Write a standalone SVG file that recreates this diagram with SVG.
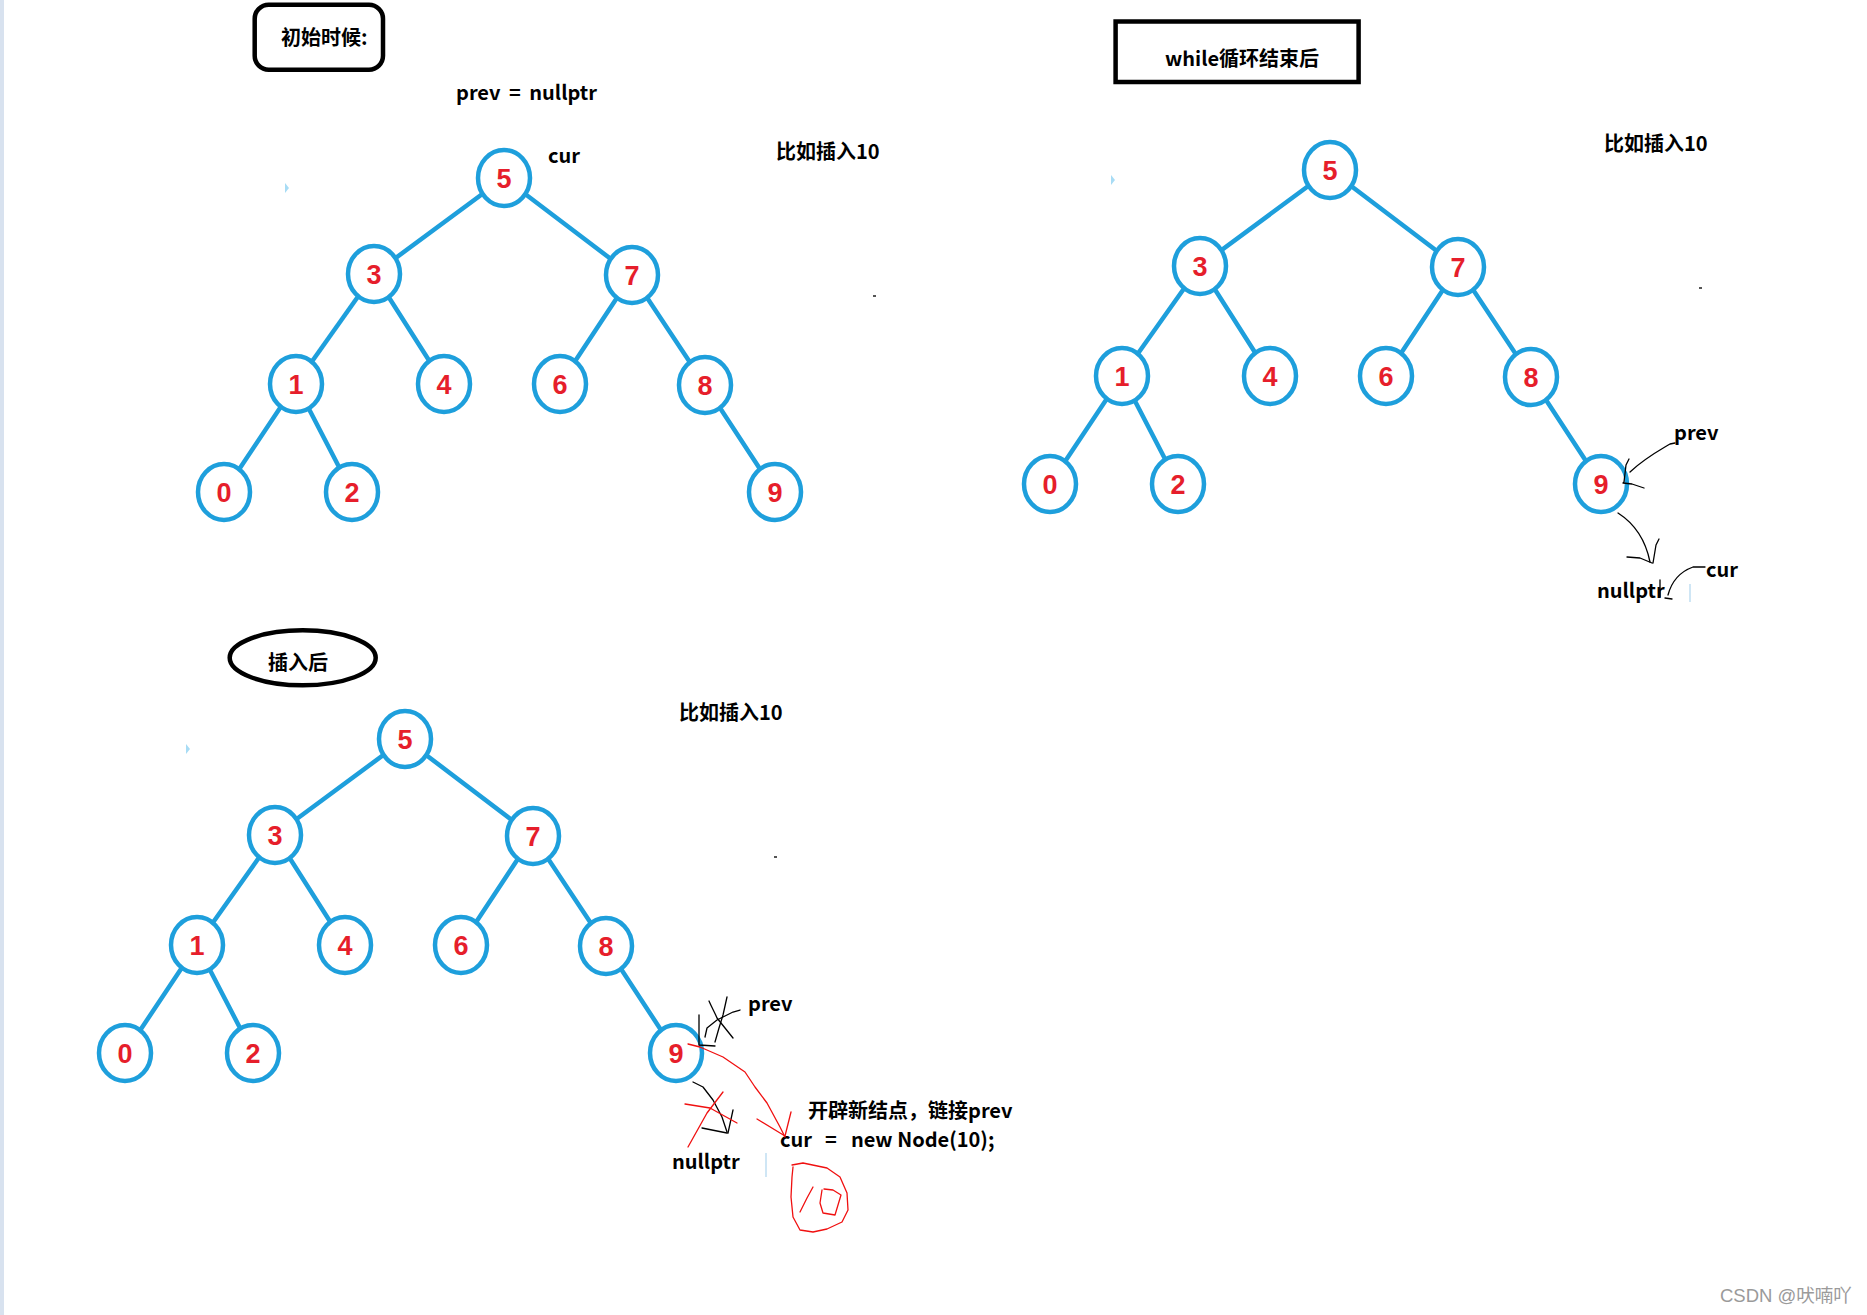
<svg xmlns="http://www.w3.org/2000/svg" width="1867" height="1315" viewBox="0 0 1867 1315">
<defs>
<style>
.edge{stroke:#1e9fdc;stroke-width:4.5;stroke-linecap:round}
.node ellipse{fill:#fff;stroke:#1e9fdc;stroke-width:4.5}
.node text{fill:#e61e2b;font-family:"Liberation Sans",Arial,sans-serif;font-weight:bold;font-size:27px;text-anchor:middle}
.lbl{font-family:"Noto Sans CJK SC","Noto Sans",sans-serif;font-weight:bold;font-size:20px;fill:#000}
.pen{fill:none;stroke:#000;stroke-width:1.3;stroke-linecap:round;stroke-linejoin:round}
.red{fill:none;stroke:#f01010;stroke-width:1.3;stroke-linecap:round;stroke-linejoin:round}
.frame{fill:none;stroke:#000;stroke-width:4.5}
</style>
<g id="treeEdges">
<line class="edge" x1="0" y1="0" x2="-130" y2="96"/>
<line class="edge" x1="0" y1="0" x2="128" y2="97"/>
<line class="edge" x1="-130" y1="96" x2="-208" y2="206"/>
<line class="edge" x1="-130" y1="96" x2="-60" y2="206"/>
<line class="edge" x1="128" y1="97" x2="56" y2="206"/>
<line class="edge" x1="128" y1="97" x2="201" y2="207"/>
<line class="edge" x1="-208" y1="206" x2="-280" y2="314"/>
<line class="edge" x1="-208" y1="206" x2="-152" y2="314"/>
<line class="edge" x1="201" y1="207" x2="271" y2="314"/>
</g>
</defs>
<rect width="1867" height="1315" fill="#fff"/>
<rect x="0" y="0" width="4" height="1315" fill="#d8e2ef"/>

<!-- Tree 1 -->
<g id="tree1" transform="translate(504,178)">
<g id="t1-connectors"><use href="#treeEdges"/></g>
<g id="t1-n5" class="node"><ellipse cx="0" cy="0" rx="26" ry="28"/><text x="0" y="10">5</text></g>
<g id="t1-n3" class="node"><ellipse cx="-130" cy="96" rx="26" ry="28"/><text x="-130" y="106">3</text></g>
<g id="t1-n7" class="node"><ellipse cx="128" cy="97" rx="26" ry="28"/><text x="128" y="107">7</text></g>
<g id="t1-n1" class="node"><ellipse cx="-208" cy="206" rx="26" ry="28"/><text x="-208" y="216">1</text></g>
<g id="t1-n4" class="node"><ellipse cx="-60" cy="206" rx="26" ry="28"/><text x="-60" y="216">4</text></g>
<g id="t1-n6" class="node"><ellipse cx="56" cy="206" rx="26" ry="28"/><text x="56" y="216">6</text></g>
<g id="t1-n8" class="node"><ellipse cx="201" cy="207" rx="26" ry="28"/><text x="201" y="217">8</text></g>
<g id="t1-n0" class="node"><ellipse cx="-280" cy="314" rx="26" ry="28"/><text x="-280" y="324">0</text></g>
<g id="t1-n2" class="node"><ellipse cx="-152" cy="314" rx="26" ry="28"/><text x="-152" y="324">2</text></g>
<g id="t1-n9" class="node"><ellipse cx="271" cy="314" rx="26" ry="28"/><text x="271" y="324">9</text></g>
<polygon points="-219,5 -215,10 -219,15" fill="#a8dcf5"/>
<rect x="369" y="117" width="3" height="2" fill="#555"/>
</g>

<!-- Tree 2 -->
<g id="tree2" transform="translate(1330,170)">
<g id="t2-connectors"><use href="#treeEdges"/></g>
<g id="t2-n5" class="node"><ellipse cx="0" cy="0" rx="26" ry="28"/><text x="0" y="10">5</text></g>
<g id="t2-n3" class="node"><ellipse cx="-130" cy="96" rx="26" ry="28"/><text x="-130" y="106">3</text></g>
<g id="t2-n7" class="node"><ellipse cx="128" cy="97" rx="26" ry="28"/><text x="128" y="107">7</text></g>
<g id="t2-n1" class="node"><ellipse cx="-208" cy="206" rx="26" ry="28"/><text x="-208" y="216">1</text></g>
<g id="t2-n4" class="node"><ellipse cx="-60" cy="206" rx="26" ry="28"/><text x="-60" y="216">4</text></g>
<g id="t2-n6" class="node"><ellipse cx="56" cy="206" rx="26" ry="28"/><text x="56" y="216">6</text></g>
<g id="t2-n8" class="node"><ellipse cx="201" cy="207" rx="26" ry="28"/><text x="201" y="217">8</text></g>
<g id="t2-n0" class="node"><ellipse cx="-280" cy="314" rx="26" ry="28"/><text x="-280" y="324">0</text></g>
<g id="t2-n2" class="node"><ellipse cx="-152" cy="314" rx="26" ry="28"/><text x="-152" y="324">2</text></g>
<g id="t2-n9" class="node"><ellipse cx="271" cy="314" rx="26" ry="28"/><text x="271" y="324">9</text></g>
<polygon points="-219,5 -215,10 -219,15" fill="#a8dcf5"/>
<rect x="369" y="117" width="3" height="2" fill="#555"/>
</g>

<!-- Tree 3 -->
<g id="tree3" transform="translate(405,739)">
<g id="t3-connectors"><use href="#treeEdges"/></g>
<g id="t3-n5" class="node"><ellipse cx="0" cy="0" rx="26" ry="28"/><text x="0" y="10">5</text></g>
<g id="t3-n3" class="node"><ellipse cx="-130" cy="96" rx="26" ry="28"/><text x="-130" y="106">3</text></g>
<g id="t3-n7" class="node"><ellipse cx="128" cy="97" rx="26" ry="28"/><text x="128" y="107">7</text></g>
<g id="t3-n1" class="node"><ellipse cx="-208" cy="206" rx="26" ry="28"/><text x="-208" y="216">1</text></g>
<g id="t3-n4" class="node"><ellipse cx="-60" cy="206" rx="26" ry="28"/><text x="-60" y="216">4</text></g>
<g id="t3-n6" class="node"><ellipse cx="56" cy="206" rx="26" ry="28"/><text x="56" y="216">6</text></g>
<g id="t3-n8" class="node"><ellipse cx="201" cy="207" rx="26" ry="28"/><text x="201" y="217">8</text></g>
<g id="t3-n0" class="node"><ellipse cx="-280" cy="314" rx="26" ry="28"/><text x="-280" y="324">0</text></g>
<g id="t3-n2" class="node"><ellipse cx="-152" cy="314" rx="26" ry="28"/><text x="-152" y="324">2</text></g>
<g id="t3-n9" class="node"><ellipse cx="271" cy="314" rx="26" ry="28"/><text x="271" y="324">9</text></g>
<polygon points="-219,5 -215,10 -219,15" fill="#a8dcf5"/>
<rect x="369" y="117" width="3" height="2" fill="#555"/>
</g>

<!-- Section 1 labels -->
<g id="title1">
<rect class="frame" x="254.7" y="4.7" width="128.3" height="65" rx="14"/>
<text class="lbl" x="281" y="45" font-size="19">初始时候:</text>
</g>
<text class="lbl" x="456" y="100" word-spacing="4">prev = nullptr</text>
<text class="lbl" x="548" y="163">cur</text>
<text class="lbl" x="776" y="159">比如插入10</text>

<!-- Section 2 labels -->
<g id="title2">
<rect class="frame" x="1115.6" y="21.5" width="243" height="60.5"/>
<text class="lbl" x="1165" y="66">while循环结束后</text>
</g>
<text class="lbl" x="1604" y="151">比如插入10</text>
<text class="lbl" x="1674" y="440">prev</text>
<text class="lbl" x="1706" y="577">cur</text>
<text class="lbl" x="1597" y="598">nullptr</text>
<g id="sketch2">
<path class="pen" d="M1675,443 L1670,444 C1660,450 1645,458 1630,472"/>
<path class="pen" d="M1629,459 L1626,465 L1624,482 L1623,483 L1632,484 L1644,488"/>
<path class="pen" d="M1618,513 C1632,522 1645,537 1650,562"/>
<path class="pen" d="M1659,539 L1656,545 L1653,563 M1627,557 L1640,558 L1652,563"/>
<path class="pen" d="M1705,567 L1693,567 C1682,571 1672,580 1668,595"/>
<path class="pen" d="M1660,580 L1660,597 M1665,598 L1672,599"/>
<line x1="1690" y1="584" x2="1690" y2="602" stroke="#cfe6f5" stroke-width="2"/>
</g>

<!-- Section 3 labels -->
<g id="title3">
<ellipse cx="302.7" cy="657.8" rx="73" ry="27.5" fill="none" stroke="#000" stroke-width="4.5"/>
<text class="lbl" x="268" y="670">插入后</text>
</g>
<text class="lbl" x="679" y="720">比如插入10</text>
<text class="lbl" x="748" y="1011">prev</text>
<text class="lbl" x="808" y="1118">开辟新结点，链接prev</text>
<text class="lbl" x="780" y="1147" font-weight="600" font-size="21">cur</text>
<text class="lbl" x="825" y="1147" font-weight="600" font-size="21">=</text>
<text class="lbl" x="851" y="1147" font-weight="600" font-size="21">new Node(10);</text>
<text class="lbl" x="672" y="1169">nullptr</text>
<g id="sketch3">
<path class="pen" d="M709,1001 C712,1008 715,1013 717,1018 L733,1038"/>
<path class="pen" d="M727,997 L723,1015 L719,1028 L715,1042"/>
<path class="pen" d="M740,1010 L733,1012 L723,1017 L717,1020 L707,1028 L705,1037"/>
<path class="pen" d="M699,1015 L699,1045 L715,1046"/>
<path class="pen" d="M693,1082 L703,1087 L713,1100 L722,1117 L727,1132"/>
<path class="pen" d="M702,1128 L727,1133 M733,1110 L728,1133"/>
<path class="red" d="M688,1044 L700,1047 L723,1057 L745,1072 L755,1087 L767,1103 L780,1127 L785,1137"/>
<path class="red" d="M757,1119 L785,1136 M791,1112 L785,1136"/>
<path class="red" d="M685,1104 L710,1108 L737,1123"/>
<path class="red" d="M723,1092 L707,1113 L688,1147"/>
<path class="red" d="M792,1165 L803,1163 L827,1168 L840,1177 L847,1193 L848,1210 L842,1222 L827,1229 L813,1232 L800,1230 L793,1217 L791,1197 L792,1177 L793,1167"/>
<path class="red" d="M813,1187 L807,1198 L800,1212"/>
<path class="red" d="M822,1190 L820,1203 L823,1213 L835,1215 L838,1205 L841,1195 L833,1190 L824,1189"/>
<line x1="766" y1="1153" x2="766" y2="1177" stroke="#cfe6f5" stroke-width="2"/>
</g>

<text x="1720" y="1302" font-family="'Liberation Sans','Noto Sans CJK SC',sans-serif" font-size="18.5" fill="#9a9a9a">CSDN @吠喃吖</text>
</svg>
